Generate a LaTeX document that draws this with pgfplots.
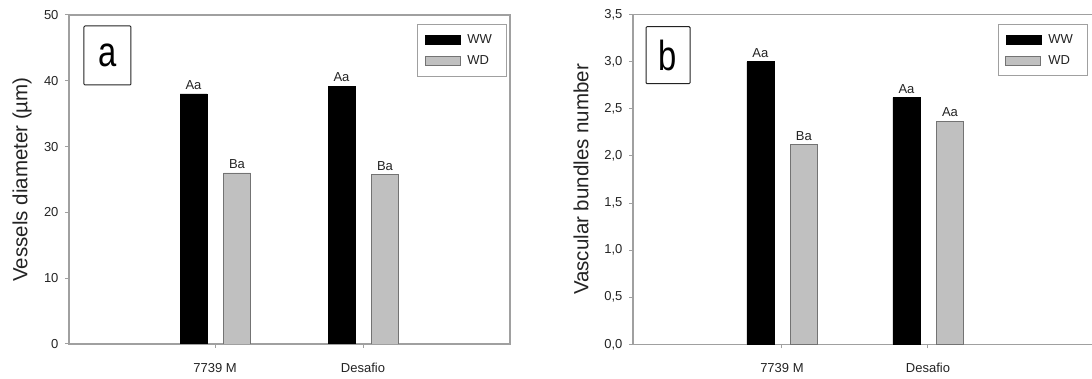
\documentclass[border=0pt]{standalone}
\usepackage{pgfplots}
\pgfplotsset{compat=1.18}
\usepackage{fontspec}
\setmainfont{Liberation Sans}
\newfontfamily\letterfont[FakeStretch=0.78]{Liberation Sans}
\definecolor{axgray}{RGB}{160,160,160}
\definecolor{bargray}{RGB}{192,192,192}
\definecolor{edgegray}{RGB}{115,115,115}
\definecolor{txt}{RGB}{35,35,35}
\pgfplotsset{
  panel/.style={
    scale only axis,
    axis line style={axgray, line width=1.5pt},
    tick style={axgray, line width=1pt},
    major tick length=4pt, tick align=outside,
    xtick pos=bottom, ytick pos=left,
    xtick={1,2}, xticklabels={7739 M, Desafio},
    ticklabel style={font=\fontsize{13}{15}\selectfont, text=txt},
    xticklabel style={yshift=-11pt, text height=9.5pt, text depth=2.5pt},
    yticklabel style={xshift=-3pt},
    /pgf/number format/assume math mode=true,
    ylabel style={font=\fontsize{20.5}{24}\selectfont, text=txt, anchor=center},
    ybar, bar width=27pt, ymin=0,
    nodes near coords, point meta=explicit symbolic,
    every node near coord/.append style={font=\fontsize{13}{15}\selectfont, text=txt, inner sep=2pt, yshift=2pt},
    legend style={draw=axgray, line width=1pt, font=\fontsize{13}{15}\selectfont, text=txt,
      inner xsep=7pt, inner ysep=8pt, row sep=7pt, column sep=5pt},
    legend cell align=left,
  },
  ww/.style={fill=black, draw=black, line width=0.6pt, bar shift=-21.5pt,
    legend image code/.code={\draw[fill=black, draw=black, line width=0.6pt] (0pt,-4.5pt) rectangle (35pt,4.5pt);}},
  wd/.style={fill=bargray, draw=edgegray, line width=0.8pt, bar shift=22pt,
    legend image code/.code={\draw[fill=bargray, draw=edgegray, line width=0.8pt] (0pt,-4.5pt) rectangle (35pt,4.5pt);}},
}
\begin{document}
\begin{tikzpicture}
\useasboundingbox (0pt,0pt) rectangle (1092pt,379pt);
% Panel a
\begin{axis}[panel,
  at={(69pt,35pt)}, anchor=south west,
  width=441pt, height=329pt,
  xmin=0.0135, xmax=2.993, ymax=50, ytick={0,10,...,50},
  ylabel={Vessels diameter (µm)},
  ylabel style={at={(rel axis cs:-0.1066,0.5)}},
  legend style={at={(0.993,0.973)}, anchor=north east},
]
\addplot[ww] coordinates {(1,38.0) [Aa] (2,39.2) [Aa]};
\addlegendentry{\makebox[30pt][l]{WW}}
\addplot[wd] coordinates {(1,26.0) [Ba] (2,25.7) [Ba]};
\addlegendentry{\makebox[30pt][l]{WD}}
\node[draw=txt, line width=1pt, rounded corners=1pt, minimum width=47pt, minimum height=59pt, inner sep=0pt, font=\letterfont\fontsize{42}{42}\selectfont, text=black] at (rel axis cs:0.0873,0.877) {a};
\end{axis}
% Panel b
\begin{axis}[panel,
  at={(633pt,34.7pt)}, anchor=south west,
  width=462pt, height=329.6pt,
  xmin=-0.02, xmax=3.144, ymax=3.5, ytick={0,0.5,...,3.5},
  yticklabel style={/pgf/number format/.cd, use comma, fixed, fixed zerofill, precision=1},
  ylabel={Vascular bundles number},
  ylabel style={at={(rel axis cs:-0.1126,0.5)}},
  legend style={at={(0.790,0.973)}, anchor=north west},
]
\addplot[ww] coordinates {(1,3.00) [Aa] (2,2.62) [Aa]};
\addlegendentry{\makebox[30pt][l]{WW}}
\addplot[wd] coordinates {(1,2.12) [Ba] (2,2.37) [Aa]};
\addlegendentry{\makebox[30pt][l]{WD}}
\node[draw=txt, line width=1pt, rounded corners=1pt, minimum width=44pt, minimum height=57pt, inner sep=0pt, font=\letterfont\fontsize{42}{42}\selectfont, text=black] at (rel axis cs:0.0758,0.877) {b};
\end{axis}
\end{tikzpicture}
\end{document}
